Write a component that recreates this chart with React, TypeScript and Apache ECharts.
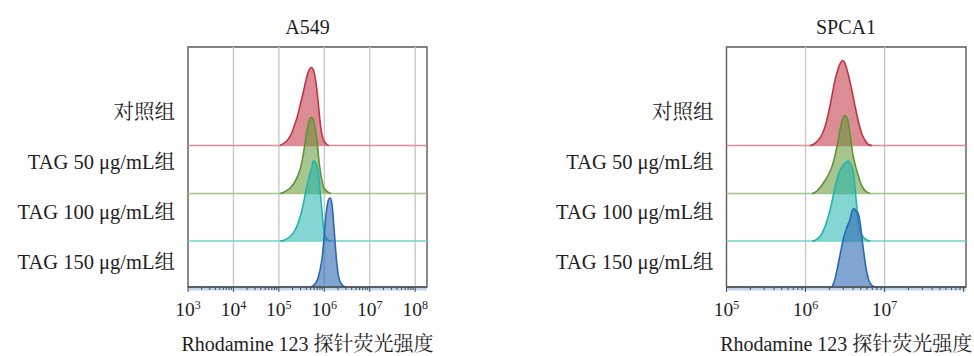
import React, { useEffect, useRef } from "react";
import * as echarts from "echarts";

// ---------- data ----------
const panelTitles = ["A549", "SPCA1"];
const groups = ["对照组", "TAG 50 μg/mL组", "TAG 100 μg/mL组", "TAG 150 μg/mL组"];
const axisTitle = "Rhodamine 123 探针荧光强度";

// decade exponents that carry a tick label (10^n)
const a549Decades = [3, 4, 5, 6, 7, 8];
const spca1Decades = [5, 6, 7];

// A549 histograms: x = log10(fluorescence), y = relative count
const a549ControlLog = [5.026, 5.174, 5.262, 5.319, 5.394, 5.467, 5.54, 5.599, 5.65, 5.709, 5.76, 5.813, 5.857, 5.892, 5.93, 5.98, 6.055, 6.1];
const a549ControlCount = [0, 4.5, 10.5, 17, 27, 40, 54, 65.5, 74, 78, 75.5, 64, 47, 30.5, 15.5, 5.5, 1, 0];
const a549Tag50Log = [5.026, 5.099, 5.247, 5.357, 5.467, 5.54, 5.615, 5.672, 5.709, 5.76, 5.835, 5.87, 5.907, 5.945, 5.98, 6.018, 6.09, 6.15];
const a549Tag50Count = [0, 1, 5.5, 12, 24, 40, 62, 73.5, 76, 73.5, 55, 38, 24, 13.5, 7, 4, 1, 0];
const a549Tag100Log = [5.026, 5.099, 5.247, 5.357, 5.467, 5.54, 5.599, 5.65, 5.687, 5.724, 5.76, 5.797, 5.835, 5.87, 5.907, 5.945, 5.98, 6.018, 6.084, 6.15];
const a549Tag100Count = [0, 0.5, 4.5, 11, 24, 37.5, 51, 61, 68, 73, 80, 79, 75, 68, 50, 32, 14, 5, 1, 0];
const a549Tag150Log = [5.709, 5.797, 5.87, 5.945, 5.996, 6.04, 6.084, 6.128, 6.165, 6.2, 6.238, 6.275, 6.326, 6.392, 6.458];
const a549Tag150Count = [0, 3, 10, 27, 50, 73, 86, 89, 84, 67, 44, 24, 8, 2, 0];

// SPCA1 histograms
const spca1ControlLog = [6.057, 6.099, 6.162, 6.205, 6.247, 6.289, 6.332, 6.373, 6.408, 6.437, 6.471, 6.5, 6.542, 6.585, 6.627, 6.668, 6.711, 6.753, 6.795, 6.842];
const spca1ControlCount = [0, 1, 5.5, 10.5, 19, 32, 49, 65.5, 75.5, 82, 85, 82, 70.5, 55.5, 39, 24, 12, 5, 1, 0];
const spca1Tag50Log = [6.082, 6.12, 6.184, 6.247, 6.297, 6.335, 6.373, 6.405, 6.437, 6.468, 6.5, 6.532, 6.551, 6.576, 6.601, 6.627, 6.652, 6.69, 6.728, 6.775, 6.816];
const spca1Tag50Count = [0, 1, 6, 13, 20, 27, 38, 50, 64, 74, 78, 74, 66, 52, 38, 29, 22, 12, 5.5, 1.3, 0];
const spca1Tag100Log = [6.082, 6.12, 6.184, 6.247, 6.31, 6.352, 6.395, 6.437, 6.48, 6.513, 6.542, 6.57, 6.605, 6.627, 6.648, 6.668, 6.711, 6.775, 6.816];
const spca1Tag100Count = [0, 0.5, 4.5, 14.5, 31, 46, 61, 71, 76, 79, 80, 77, 69, 52, 34.5, 18, 6, 1, 0];
const spca1Tag150Log = [6.335, 6.373, 6.411, 6.449, 6.487, 6.525, 6.563, 6.589, 6.614, 6.639, 6.665, 6.69, 6.715, 6.741, 6.772, 6.804, 6.842, 6.892];
const spca1Tag150Count = [0, 8, 22, 37, 51, 60, 68, 76, 78.5, 76, 74, 65, 48, 32, 16, 6, 1.5, 0];

// ---------- layout / style ----------
const FONT = "'Liberation Serif', 'Times New Roman', 'Noto Serif CJK SC', 'Noto Sans CJK SC', serif";
const TXT = "#1e1e1e";
const Y_MAX = 240;
const laneOffsets = [141.5, 93.5, 46, 0];
const labelPos = [175, 125, 75, 25];
const lineColors = ["#c03545", "#5f9436", "#20b4ae", "#2c68b0"];
const fillColors = ["rgba(190,50,65,0.56)", "rgba(100,150,55,0.56)", "rgba(30,180,172,0.55)", "rgba(45,105,178,0.6)"];
const baseColors = ["#e08c97", "#a3c488", "#6fd3cd", "#8fb4dc"];

const panels = [
  {
    min: 3, max: 8.26, decades: a549Decades,
    logs: [a549ControlLog, a549Tag50Log, a549Tag100Log, a549Tag150Log],
    counts: [a549ControlCount, a549Tag50Count, a549Tag100Count, a549Tag150Count],
    grid: { left: 188, top: 47, width: 239, height: Y_MAX },
    titleX: 307.5,
  },
  {
    min: 5, max: 8.03, decades: spca1Decades,
    logs: [spca1ControlLog, spca1Tag50Log, spca1Tag100Log, spca1Tag150Log],
    counts: [spca1ControlCount, spca1Tag50Count, spca1Tag100Count, spca1Tag150Count],
    grid: { left: 726.5, top: 47, width: 239.5, height: Y_MAX },
    titleX: 846,
  },
];

function buildOption() {
  const grids: any[] = [];
  const xAxes: any[] = [];
  const yAxes: any[] = [];
  const series: any[] = [];
  const graphics: any[] = [];

  panels.forEach((p, pi) => {
    grids.push({
      ...p.grid,
      containLabel: false,
      outerBoundsMode: "none",
      show: true,
      borderColor: "#5a5a5a",
      borderWidth: 1.4,
      backgroundColor: "transparent",
    });
    xAxes.push({
      type: "value",
      gridIndex: pi,
      min: p.min,
      max: p.max,
      interval: 1,
      axisLine: { show: false },
      axisTick: { show: false },
      splitLine: { show: false },
      axisLabel: {
        margin: 12,
        showMinLabel: true,
        showMaxLabel: false,
        formatter: (v: number) => {
          const r = Math.round(v);
          if (Math.abs(v - r) > 1e-6 || p.decades.indexOf(r) < 0) return "";
          return `{b|10}{s|${r}}`;
        },
        rich: {
          b: { fontSize: 19.5, fontFamily: FONT, color: TXT, lineHeight: 20, verticalAlign: "middle" },
          s: { fontSize: 12, fontFamily: FONT, color: TXT, lineHeight: 20, verticalAlign: "top" },
        },
      },
      name: axisTitle,
      nameLocation: "middle",
      nameGap: 47,
      nameTextStyle: { fontSize: 20, fontFamily: FONT, color: TXT },
    });
    yAxes.push({
      type: "value",
      gridIndex: pi,
      min: 0,
      max: Y_MAX,
      interval: 25,
      axisLine: { show: false },
      axisTick: { show: false },
      splitLine: { show: false },
      axisLabel: {
        margin: 13,
        fontSize: 20.5,
        fontFamily: FONT,
        color: TXT,
        formatter: (v: number) => {
          const i = labelPos.indexOf(Math.round(v));
          return i >= 0 ? groups[i] : "";
        },
      },
    });

    // vertical grid lines at labelled decades inside the frame
    const gridVals = p.decades.filter((d) => d > p.min && d < p.max);
    series.push({
      type: "custom",
      xAxisIndex: pi,
      yAxisIndex: pi,
      z: 1,
      silent: true,
      clip: false,
      data: gridVals.map((d) => [d, 0]),
      renderItem: (_params: any, api: any) => {
        const v = api.value(0);
        const a = api.coord([v, 0]);
        const b = api.coord([v, Y_MAX]);
        return {
          type: "line",
          shape: { x1: a[0], y1: a[1], x2: b[0], y2: b[1] },
          style: { stroke: "#c9c9c9", lineWidth: 1.4 },
        };
      },
    });

    // ridges
    p.logs.forEach((xs, gi) => {
      const off = laneOffsets[gi];
      series.push({
        type: "line",
        name: groups[gi] + "-base-" + pi,
        xAxisIndex: pi,
        yAxisIndex: pi,
        data: [[p.min, off], [p.max, off]],
        symbol: "none",
        silent: true,
        z: 2 + gi,
        lineStyle: { color: baseColors[gi], width: 1.3, opacity: 1 },
      });
      series.push({
        type: "line",
        name: groups[gi] + "-" + pi,
        xAxisIndex: pi,
        yAxisIndex: pi,
        data: xs.map((x, i) => [x, off + p.counts[gi][i]]),
        symbol: "none",
        smooth: 0.35,
        silent: true,
        z: 2 + gi,
        lineStyle: { color: lineColors[gi], width: 1.6 },
        areaStyle: { color: fillColors[gi], origin: off, opacity: 1 },
      });
    });

    // bottom axis line with major and minor log ticks
    const tickData: number[][] = [[p.min, 2]];
    for (let n = Math.floor(p.min); n < Math.ceil(p.max); n++) {
      if (n >= p.min && n <= p.max) tickData.push([n, 1]);
      for (let k = 2; k <= 9; k++) {
        const v = n + Math.log10(k);
        if (v > p.min && v < p.max) tickData.push([v, 0]);
      }
    }
    series.push({
      type: "custom",
      xAxisIndex: pi,
      yAxisIndex: pi,
      z: 10,
      silent: true,
      clip: false,
      data: tickData,
      renderItem: (_params: any, api: any) => {
        const v = api.value(0);
        const kind = api.value(1);
        const a = api.coord([v, 0]);
        if (kind === 2) {
          const b = api.coord([p.max, 0]);
          return {
            type: "group",
            children: [
              {
                type: "line",
                shape: { x1: a[0], y1: a[1] + 2, x2: b[0], y2: b[1] + 2 },
                style: { stroke: "rgba(110,160,215,0.45)", lineWidth: 3 },
              },
              {
                type: "line",
                shape: { x1: a[0], y1: a[1], x2: b[0], y2: b[1] },
                style: { stroke: "#4a4a4a", lineWidth: 1.5 },
              },
            ],
          };
        }
        const len = kind === 1 ? 5 : 3;
        return {
          type: "line",
          shape: { x1: a[0], y1: a[1], x2: a[0], y2: a[1] + len },
          style: { stroke: "#4a4a4a", lineWidth: 1 },
        };
      },
    });

    graphics.push({
      type: "text",
      x: p.titleX,
      y: 27,
      style: {
        text: panelTitles[pi],
        fontSize: 20,
        fontFamily: FONT,
        fill: TXT,
        align: "center",
        verticalAlign: "middle",
      },
    });
  });

  return {
    animation: false,
    backgroundColor: "#ffffff",
    grid: grids,
    xAxis: xAxes,
    yAxis: yAxes,
    series,
    graphic: graphics,
  };
}

export default function App() {
  const ref = useRef<HTMLDivElement>(null);
  useEffect(() => {
    if (!ref.current) return;
    const chart = echarts.init(ref.current, null, { renderer: "svg" });
    chart.setOption(buildOption() as any);
    return () => chart.dispose();
  }, []);
  return (
    <div
      ref={ref}
      style={{ position: "fixed", left: 0, top: 0, width: 974, height: 356, background: "#fff" }}
    />
  );
}
